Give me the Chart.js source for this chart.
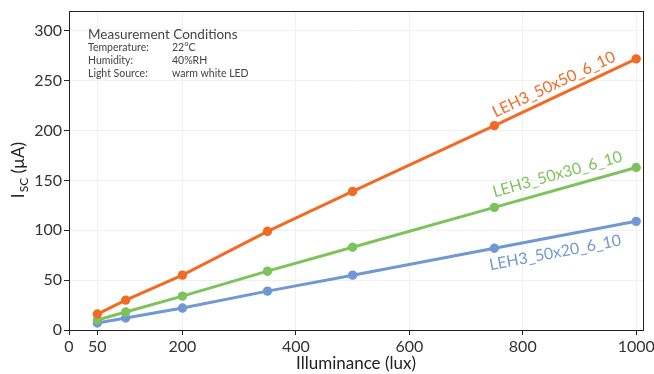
<!DOCTYPE html>
<html>
<head>
<meta charset="utf-8">
<script src="https://cdn.jsdelivr.net/npm/chart.js@4/dist/chart.umd.min.js"></script>
<style>
  html, body { margin: 0; padding: 0; background: #fff; }
  #wrap { width: 654px; height: 374px; position: relative; }
</style>
</head>
<body>
<div id="wrap"><canvas id="iscChart"></canvas></div>
<script>
// illuminance (lux) and measured short-circuit current (µA)
const lux = [50, 100, 200, 350, 500, 750, 1000];
const isc50x50 = [16, 30, 55, 99, 139, 205, 272];
const isc50x30 = [10, 18, 34, 59, 83, 123, 163];
const isc50x20 = [7, 12, 22, 39, 55, 82, 109];
const seriesNames = ['LEH3_50x50_6_10', 'LEH3_50x30_6_10', 'LEH3_50x20_6_10'];
const xTicks = [0, 50, 200, 400, 600, 800, 1000];
const yTicks = [0, 50, 100, 150, 200, 250, 300];
const conditions = [
    ['Temperature:', '22°C'],
    ['Humidity:', '40%RH'],
    ['Light Source:', 'warm white LED']
];

const FONT = 'Lato, "Open Sans", sans-serif';
const colors = ['#f26b24', '#7cc35c', '#7098d2'];

function pts(values) {
    return lux.map((x, i) => ({ x: x, y: values[i] }));
}

// frame, conditions box, rotated line labels, y title with subscript
const decorations = {
    id: 'decorations',
    afterDraw(chart) {
        const c = chart.ctx;
        const a = chart.chartArea;
        const xs = chart.scales.x, ys = chart.scales.y;
        c.save();
        c.strokeStyle = '#222';
        c.lineWidth = 1;
        c.strokeRect(a.left + 0.5, a.top + 0.5, a.right - a.left, a.bottom - a.top);

        // measurement conditions
        c.fillStyle = '#444';
        c.textBaseline = 'alphabetic';
        c.font = '13.5px ' + FONT;
        c.fillText('Measurement Conditions', a.left + 19, a.top + 28);
        c.font = '10.5px ' + FONT;
        conditions.forEach((row, i) => {
            c.fillText(row[0], a.left + 19, a.top + 40 + i * 13);
            c.fillText(row[1], a.left + 103, a.top + 40 + i * 13);
        });

        // labels along the lines
        const offsets = [[1, -8], [0, -10], [-4, 22]];
        chart.data.datasets.forEach((ds, i) => {
            const p1 = { x: xs.getPixelForValue(ds.data[5].x), y: ys.getPixelForValue(ds.data[5].y) };
            const p2 = { x: xs.getPixelForValue(ds.data[6].x), y: ys.getPixelForValue(ds.data[6].y) };
            const ang = Math.atan2(p2.y - p1.y, p2.x - p1.x);
            c.save();
            c.translate(p1.x + offsets[i][0], p1.y + offsets[i][1]);
            c.rotate(ang);
            c.fillStyle = colors[i];
            c.font = '16px ' + FONT;
            c.fillText(seriesNames[i], 0, 0);
            c.restore();
        });

        // y axis title: I_SC (µA)
        c.save();
        c.translate(24, (a.top + a.bottom) / 2);
        c.rotate(-Math.PI / 2);
        c.fillStyle = '#222';
        c.font = '17px ' + FONT;
        const w1 = c.measureText('I').width;
        c.font = '12px ' + FONT;
        const w2 = c.measureText('SC').width;
        c.font = '17px ' + FONT;
        const w3 = c.measureText(' (µA)').width;
        let x0 = -(w1 + w2 + w3) / 2;
        c.fillText('I', x0, 0);
        c.font = '12px ' + FONT;
        c.fillText('SC', x0 + w1 + 1, 4);
        c.font = '17px ' + FONT;
        c.fillText(' (µA)', x0 + w1 + w2 + 1, 0);
        c.restore();
        c.restore();
    }
};

new Chart(document.getElementById('iscChart'), {
    type: 'line',
    data: {
        datasets: [isc50x50, isc50x30, isc50x20].map((vals, i) => ({
            label: seriesNames[i],
            data: pts(vals),
            borderColor: colors[i],
            backgroundColor: colors[i],
            borderWidth: 3,
            pointRadius: 3.2,
            pointHoverRadius: 3.2,
            tension: 0,
            fill: false
        }))
    },
    options: {
        responsive: true,
        maintainAspectRatio: false,
        animation: false,
        layout: { padding: { top: 11, right: 11, left: 0, bottom: 0 } },
        plugins: {
            legend: { display: false },
            tooltip: { enabled: false }
        },
        scales: {
            x: {
                type: 'linear',
                min: 0,
                max: 1012,
                afterBuildTicks: axis => { axis.ticks = xTicks.map(v => ({ value: v })); },
                afterFit: axis => { axis.height = 44; axis.paddingLeft = 0; axis.paddingRight = 0; },
                ticks: { color: '#333', font: { family: FONT, size: 16 }, padding: 2, maxRotation: 0, callback: v => String(v) },
                grid: { color: '#f0f0f0', tickColor: '#222', tickLength: 5 },
                border: { color: '#222', width: 1 },
                title: { display: true, text: 'Illuminance (lux)', color: '#222', font: { family: FONT, size: 17 }, padding: { top: 4, bottom: 0 } }
            },
            y: {
                min: 0,
                max: 320,
                afterBuildTicks: axis => { axis.ticks = yTicks.map(v => ({ value: v })); },
                afterFit: axis => { axis.width = 69; axis.paddingTop = 0; axis.paddingBottom = 0; },
                ticks: { color: '#333', font: { family: FONT, size: 16 }, padding: 2 },
                grid: { color: '#f0f0f0', tickColor: '#222', tickLength: 5 },
                border: { color: '#222', width: 1 }
            }
        }
    },
    plugins: [decorations]
});
</script>
</body>
</html>
